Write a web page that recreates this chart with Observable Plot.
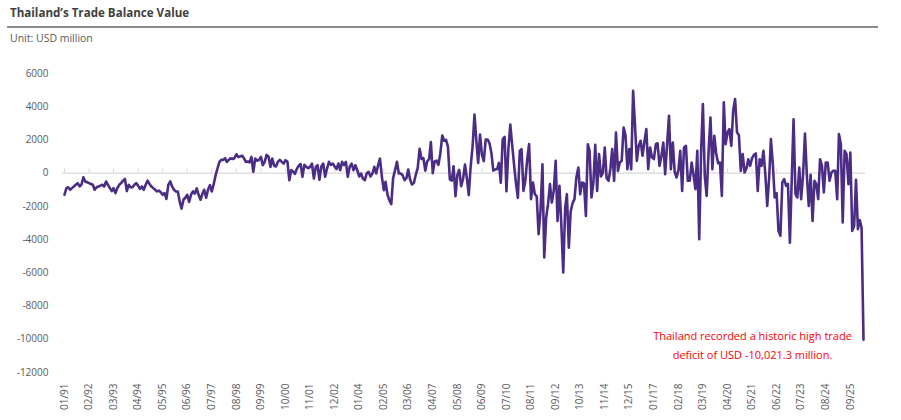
<!DOCTYPE html>
<html><head><meta charset="utf-8">
<script src="https://cdn.jsdelivr.net/npm/d3@7"></script>
<script src="https://cdn.jsdelivr.net/npm/@observablehq/plot@0.6"></script>
<style>
body{margin:0;background:#fff;width:901px;height:420px;overflow:hidden;font-family:"Open Sans",sans-serif;}
#hdr{position:relative;height:48px;}
#title{position:absolute;left:10px;top:5px;font-size:11.6px;font-weight:bold;color:#404040;white-space:nowrap;}
#rule{position:absolute;left:7px;width:871px;top:26px;height:0;border-top:2px solid #8c8c8c;}
#sub{position:absolute;left:10px;top:31px;font-size:10.5px;color:#595959;white-space:nowrap;}
#chart svg{display:block;}
</style></head><body>
<div id="hdr"><div id="title">Thailand’s Trade Balance Value</div><div id="rule"></div><div id="sub">Unit: USD million</div></div>
<div id="chart"></div>
<script>
// Monthly trade balance, USD million, starting Jan 1991
const tb1991 = [-1300, -900, -850, -1000, -900, -800, -700, -600, -800, -700, -250, -500];
const tb1992 = [-550, -600, -650, -700, -1000, -850, -800, -750, -700, -800, -500, -700];
const tb1993 = [-900, -1080, -900, -1200, -900, -700, -600, -450, -350, -1080, -700, -850];
const tb1994 = [-850, -700, -600, -750, -950, -800, -1000, -700, -450, -650, -800, -900];
const tb1995 = [-1000, -1100, -1050, -1150, -1300, -1200, -1550, -700, -500, -800, -1000, -1100];
const tb1996 = [-1100, -1730, -2130, -1600, -1480, -1300, -1730, -1300, -1100, -1225, -920, -1300];
const tb1997 = [-1600, -1225, -1000, -1480, -1000, -720, -1100, -660, -120, 280, 680, 800];
const tb1998 = [800, 900, 680, 800, 900, 850, 900, 1140, 980, 1000, 1060, 900];
const tb1999 = [680, 700, 650, 980, 80, 880, 750, 800, 980, 480, 680, 1100];
const tb2000 = [1000, 380, 880, 450, 400, 680, 800, 680, 580, 780, 700, -420];
const tb2001 = [180, 100, -50, 250, 450, 550, -220, 500, 380, 300, 380, 580];
const tb2002 = [-320, 380, 480, -400, 400, 580, -220, 280, 680, 500, 580, 400];
const tb2003 = [250, 580, 180, 680, 480, 680, -220, 380, 580, 180, 480, 180];
const tb2004 = [-200, -20, -320, -420, -20, 80, -200, -20, 380, -20, 480, 880];
const tb2005 = [-220, -1024, -520, -1300, -1626, -1867, -300, 180, 680, -20, -20, -120];
const tb2006 = [-420, -300, 220, -400, -680, -580, -100, 300, 1470, 850, 900, 150];
const tb2007 = [700, 850, 1870, 0, 700, 750, 500, 1200, 2270, 1950, 2000, 1600];
const tb2008 = [-380, -450, 420, -1385, -100, 200, -780, -350, 520, -300, -1325, 400];
const tb2009 = [1600, 3530, 2030, 620, 2330, 1100, 720, 2030, 2030, 1800, 1200, 160];
const tb2010 = [220, 250, 620, -580, 2030, 2190, -1085, 1425, 2930, 1700, 500, -600];
const tb2011 = [-1485, 1345, 1445, -1064, -460, 840, 1750, -1565, -560, -1265, -1400, -3675];
const tb2012 = [-2270, 540, -5080, -2670, -1870, -660, -1770, -1064, 740, -2870, -760, -3070];
const tb2013 = [-5980, -2070, -1265, -4480, -2300, -1800, -1565, -260, 340, -1265, -560, -600];
const tb2014 = [-2570, 1745, 1345, -1465, -600, 1705, -1064, 1145, -200, 0, 1545, -300];
const tb2015 = [-460, 300, 1445, -460, 2450, 140, 640, 740, 2750, 2300, 240, 1445];
const tb2016 = [240, 4960, 2950, 740, 1645, 1950, 1045, 1900, 2650, 240, 1545, 950];
const tb2017 = [850, 1745, 1800, 440, 1000, 1850, -60, 1700, 3450, 240, 1850, 100];
const tb2018 = [-260, 200, 1345, -1064, 1545, 1645, -460, -460, 640, -100, -960, 1345];
const tb2019 = [-3975, 1345, 4160, -200, -1365, 1300, 3350, 240, 2250, 1200, 600, 640];
const tb2020 = [-1365, 4260, 1745, 2450, 2650, 1645, 3755, 4460, 2450, 2300, 140, 1145];
const tb2021 = [40, 300, 840, 440, 900, 1100, 1185, -1064, 840, 440, 1345, -60];
const tb2022 = [-1970, -260, 2050, 540, -1465, -1200, -3475, -3775, -560, -360, -760, -650];
const tb2023 = [-4180, -260, 3250, -1265, -1465, 340, -1565, -100, 2390, -100, -1970, -100];
const tb2024 = [-2870, -460, -660, -1565, 840, 440, -1165, 640, 640, -460, 40, 140];
const tb2025 = [140, -1565, 2350, 1745, -2970, 1345, 1145, -660, 1245, -3475, -3175, -400];
const tb2026 = [-3375, -2830, -3275, -10021.3];

const xTickLabels = ["01/91","02/92","03/93","04/94","05/95","06/96","07/97","08/98","09/99","10/00","11/01","12/02","01/04","02/05","03/06","04/07","05/08","06/09","07/10","08/11","09/12","10/13","11/14","12/15","01/17","02/18","03/19","04/20","05/21","06/22","07/23","08/24","09/25"];
const yTicks = [6000, 4000, 2000, 0, -2000, -4000, -6000, -8000, -10000, -12000];
const note = "Thailand recorded a historic high trade\ndeficit of USD -10,021.3 million.";

const values = [].concat(tb1991, tb1992, tb1993, tb1994, tb1995, tb1996, tb1997, tb1998, tb1999, tb2000,
  tb2001, tb2002, tb2003, tb2004, tb2005, tb2006, tb2007, tb2008, tb2009, tb2010,
  tb2011, tb2012, tb2013, tb2014, tb2015, tb2016, tb2017, tb2018, tb2019, tb2020,
  tb2021, tb2022, tb2023, tb2024, tb2025, tb2026);
const data = values.map((v, i) => ({date: new Date(Date.UTC(1991, i, 1)), value: v}));
const parseLabel = s => { const m = +s.slice(0, 2), y = +s.slice(3); return new Date(Date.UTC(y < 50 ? 2000 + y : 1900 + y, m - 1, 1)); };
const tickDates = xTickLabels.map(parseLabel);
const fmtY = d => d < 0 ? "-" + Math.abs(d) : String(d);

const chart = Plot.plot({
  width: 901, height: 372,
  marginLeft: 64, marginRight: 38, marginTop: 25, marginBottom: 48,
  style: {fontFamily: "'Open Sans', sans-serif", fontSize: "10px", color: "#595959", background: "#fff", overflow: "visible"},
  x: {type: "utc", domain: [data[0].date, data[data.length - 1].date], ticks: tickDates,
      tickFormat: d3.utcFormat("%m/%y"), tickRotate: -90, tickSize: 0, tickPadding: 11, label: null},
  y: {domain: [-12000, 6000], ticks: yTicks, tickSize: 0, tickPadding: 16, tickFormat: fmtY, label: null},
  marks: [
    Plot.ruleY([0], {stroke: "#d9d9d9", strokeWidth: 1.3, insetLeft: -2, insetRight: -2}),
    Plot.ruleX(tickDates, {y1: 0, y2: 250, stroke: "#d9d9d9", strokeWidth: 1}),
    Plot.line(data, {x: "date", y: "value", stroke: "#4B2D86", strokeWidth: 2.6, strokeLinejoin: "round"}),
    Plot.text([note], {frameAnchor: "bottom-right", dx: -111, dy: -29, textAnchor: "middle", lineAnchor: "middle",
      fill: "#ff0000", fontSize: 11, lineHeight: 1.7})
  ]
});
document.getElementById("chart").appendChild(chart);
</script>
</body></html>
